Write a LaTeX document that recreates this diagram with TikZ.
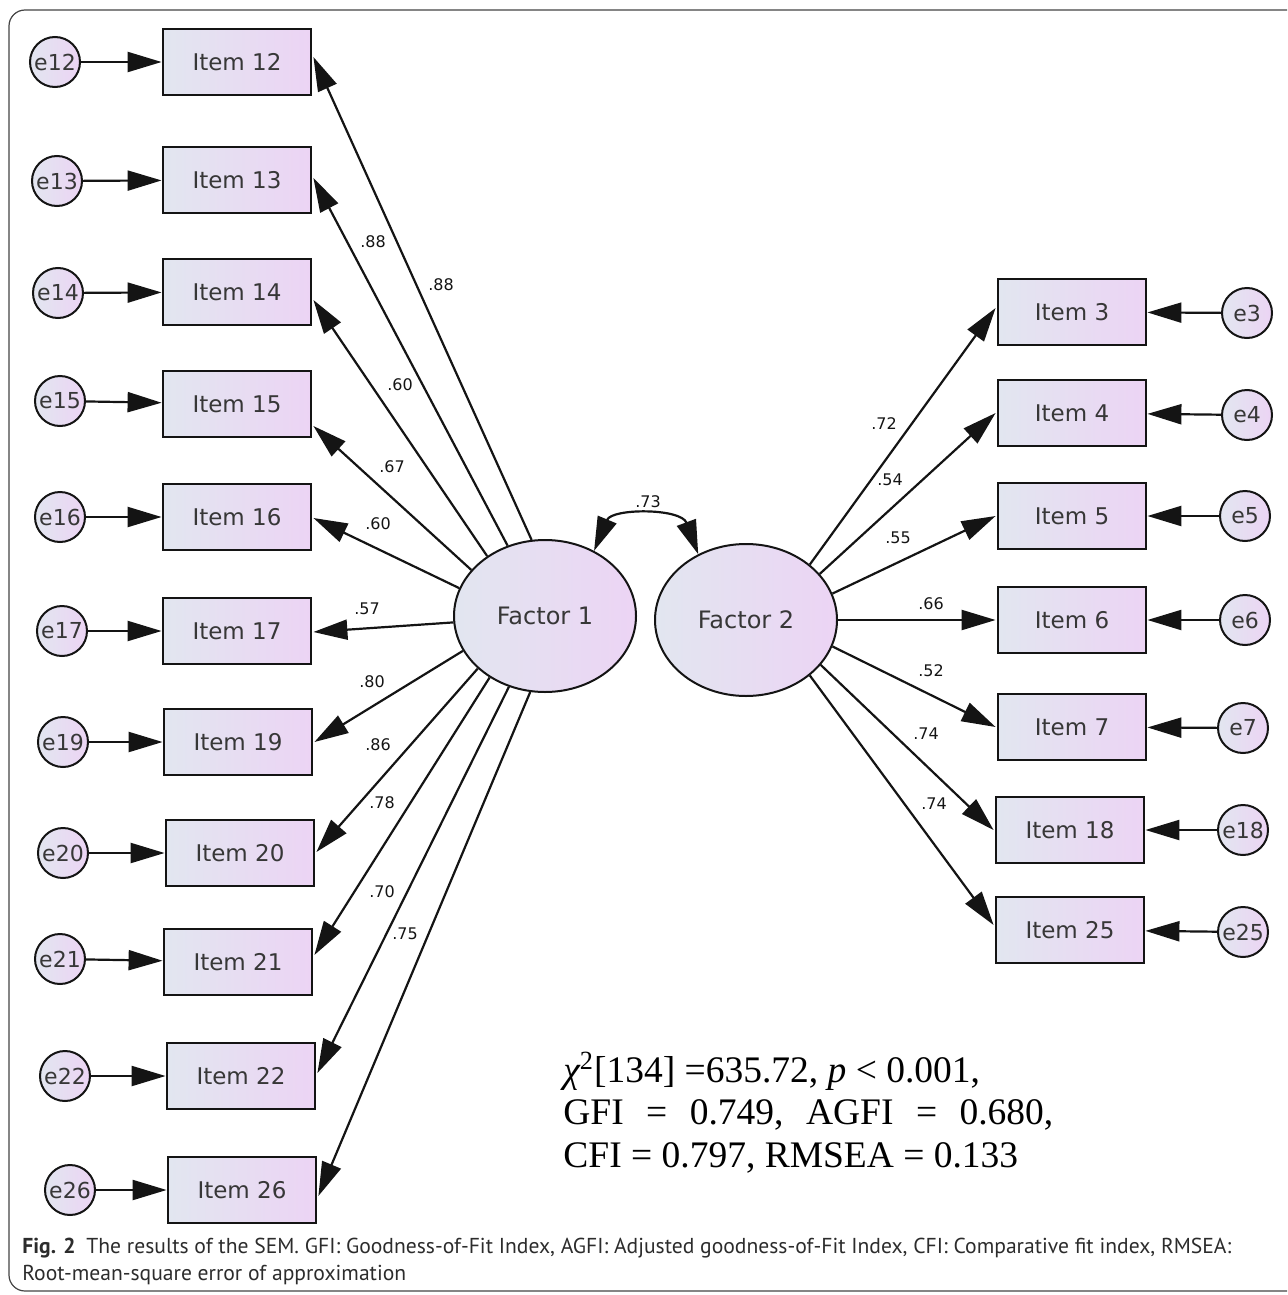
\documentclass[tikz,border=0pt]{standalone}
\usepackage{fontspec}
\setmainfont{Liberation Serif}
\newfontfamily\amosfont{DejaVu Sans}
\newfontfamily\capfont{PT Sans}
\usetikzlibrary{arrows.meta, positioning, shapes.geometric, calc}

\definecolor{fillL}{RGB}{226,230,240}
\definecolor{fillR}{RGB}{236,212,244}
\definecolor{ink}{RGB}{20,20,20}

\begin{document}
\begin{tikzpicture}[
    x=0.5pt, y=-0.5pt,
    >={Triangle[length=17pt, width=10pt]},
    item/.style={rectangle, draw=ink, line width=1.4pt, left color=fillL, right color=fillR,
        minimum width=74pt, minimum height=33pt, inner sep=0pt, text=ink!85,
        font=\amosfont\fontsize{11.5}{13}\selectfont},
    err/.style={circle, draw=ink, line width=1pt, left color=fillL, right color=fillR,
        minimum size=25pt, inner sep=0pt, text=ink!85, font=\amosfont\fontsize{11}{13}\selectfont},
    factor/.style={ellipse, draw=ink, line width=1pt, left color=fillL, right color=fillR,
        minimum width=91pt, minimum height=76pt, inner sep=0pt, text=ink!85,
        font=\amosfont\fontsize{12}{14}\selectfont},
    path/.style={->, draw=ink, line width=1.1pt},
    lbl/.style={font=\amosfont\fontsize{8}{9}\selectfont, inner sep=0pt, text=ink}
]
    \useasboundingbox (0,0) rectangle (1287,1295);
    \clip (0,0) rectangle (1287,1295);
    \draw[ink!80, line width=0.6pt, rounded corners=8pt] (9,10) rectangle (1330,1291);

    % factors
    \node[factor] (f1) at (545,616) {Factor 1};
    \node[factor] (f2) at (746,620) {Factor 2};

    % items of factor 1
    \node[item] (i12) at (237,62) {Item 12};
    \node[item] (i13) at (237,180) {Item 13};
    \node[item] (i14) at (237,292) {Item 14};
    \node[item] (i15) at (237,404) {Item 15};
    \node[item] (i16) at (237,517) {Item 16};
    \node[item] (i17) at (237,631) {Item 17};
    \node[item] (i19) at (238,742) {Item 19};
    \node[item] (i20) at (240,853) {Item 20};
    \node[item] (i21) at (238,962) {Item 21};
    \node[item] (i22) at (241,1076) {Item 22};
    \node[item] (i26) at (242,1190) {Item 26};

    % items of factor 2
    \node[item] (i3) at (1072,312) {Item 3};
    \node[item] (i4) at (1072,413) {Item 4};
    \node[item] (i5) at (1072,516) {Item 5};
    \node[item] (i6) at (1072,620) {Item 6};
    \node[item] (i7) at (1072,727) {Item 7};
    \node[item] (i18) at (1070,830) {Item 18};
    \node[item] (i25) at (1070,930) {Item 25};

    % error terms
    \node[err] (e12) at (55,62) {e12};
    \node[err] (e13) at (57,181) {e13};
    \node[err] (e14) at (58,293) {e14};
    \node[err] (e15) at (60,401) {e15};
    \node[err] (e16) at (60,517) {e16};
    \node[err] (e17) at (62,631) {e17};
    \node[err] (e19) at (63,742) {e19};
    \node[err] (e20) at (63,853) {e20};
    \node[err] (e21) at (60,959) {e21};
    \node[err] (e22) at (65,1076) {e22};
    \node[err] (e26) at (70,1190) {e26};

    \node[err] (e3) at (1247,313) {e3};
    \node[err] (e4) at (1247,415) {e4};
    \node[err] (e5) at (1245,516) {e5};
    \node[err] (e6) at (1245,620) {e6};
    \node[err] (e7) at (1243,728) {e7};
    \node[err] (e18) at (1243,830) {e18};
    \node[err] (e25) at (1243,932) {e25};

    \draw[path] (e12) -- (i12);
    \draw[path] (e13) -- (i13);
    \draw[path] (e14) -- (i14);
    \draw[path] (e15) -- (i15);
    \draw[path] (e16) -- (i16);
    \draw[path] (e17) -- (i17);
    \draw[path] (e19) -- (i19);
    \draw[path] (e20) -- (i20);
    \draw[path] (e21) -- (i21);
    \draw[path] (e22) -- (i22);
    \draw[path] (e26) -- (i26);

    \draw[path] (e3) -- (i3);
    \draw[path] (e4) -- (i4);
    \draw[path] (e5) -- (i5);
    \draw[path] (e6) -- (i6);
    \draw[path] (e7) -- (i7);
    \draw[path] (e18) -- (i18);
    \draw[path] (e25) -- (i25);

    % loadings of factor 1
    \draw[path] (f1.100) -- ($(i12.east)+(1,-5)$);
    \draw[path] (f1.118) -- ($(i13.east)+(1,-2)$);
    \draw[path] (f1.134) -- ($(i14.east)+(1,8)$);
    \draw[path] (f1.148) -- ($(i15.east)+(1,22)$);
    \draw[path] (f1.162) -- ($(i16.east)+(1,1)$);
    \draw[path] (f1.184) -- ($(i17.east)+(1,1)$);
    \draw[path] (f1.203) -- ($(i19.east)+(1,0)$);
    \draw[path] (f1.218) -- ($(i20.east)+(1,-1)$);
    \draw[path] (f1.228) -- ($(i21.east)+(1,-7)$);
    \draw[path] (f1.243) -- ($(i22.east)+(1,-3)$);
    \draw[path] (f1.259) -- ($(i26.east)+(1,6)$);

    % loadings of factor 2
    \draw[path] (f2.41) -- ($(i3.west)+(-1,-4)$);
    \draw[path] (f2.32) -- ($(i4.west)+(-1,0)$);
    \draw[path] (f2.17) -- ($(i5.west)+(-1,0)$);
    \draw[path] (f2.0) -- ($(i6.west)+(-1,0)$);
    \draw[path] (f2.-17) -- ($(i7.west)+(-1,0)$);
    \draw[path] (f2.-31) -- ($(i18.west)+(-1,0)$);
    \draw[path] (f2.-41) -- ($(i25.west)+(-1,-5)$);

    % correlation
    \draw[path, <->] (f1.53) .. controls (612,508) and (681,508) .. (f2.126);

    % coefficients
    \node[lbl] (l12) at (441,285) {.88};
    \node[lbl] (l13) at (373,242) {.88};
    \node[lbl] (l14) at (400,385) {.60};
    \node[lbl] (l15) at (392,467) {.67};
    \node[lbl] (l16) at (378,524) {.60};
    \node[lbl] (l17) at (367,609) {.57};
    \node[lbl] (l19) at (372,682) {.80};
    \node[lbl] (l20) at (378,745) {.86};
    \node[lbl] (l21) at (382,803) {.78};
    \node[lbl] (l22) at (382,892) {.70};
    \node[lbl] (l26) at (405,934) {.75};

    \node[lbl] (l3) at (884,424) {.72};
    \node[lbl] (l4) at (890,480) {.54};
    \node[lbl] (l5) at (898,538) {.55};
    \node[lbl] (l6) at (931,604) {.66};
    \node[lbl] (l7) at (931,671) {.52};
    \node[lbl] (l18) at (926,734) {.74};
    \node[lbl] (l25) at (934,804) {.74};
    \node[lbl] (l0) at (648,502) {.73};

    % fit indices
    \node[anchor=north west, align=left, inner sep=0pt, text=black,
        font=\fontsize{18.75}{21.25}\selectfont] (fit) at (563,1052)
        {{\itshape χ}\textsuperscript{2}[134] =635.72, {\itshape p} < 0.001,\\
         \hbox to 245pt{GFI\hfil=\hfil0.749,\hfil AGFI\hfil=\hfil0.680,}\\
         CFI = 0.797, RMSEA = 0.133};

    % caption
    \node[anchor=base west, inner sep=0pt, text=ink!90, font=\capfont\fontsize{10.8}{13.5}\selectfont]
        (cap1) at (22,1253) {\textbf{Fig. 2}\enspace The results of the SEM. GFI: Goodness-of-Fit Index, AGFI: Adjusted goodness-of-Fit Index, CFI: Comparative fit index, RMSEA:};
    \node[anchor=base west, inner sep=0pt, text=ink!90, font=\capfont\fontsize{10.8}{13.5}\selectfont]
        (cap2) at (22,1280) {Root-mean-square error of approximation};
\end{tikzpicture}
\end{document}
